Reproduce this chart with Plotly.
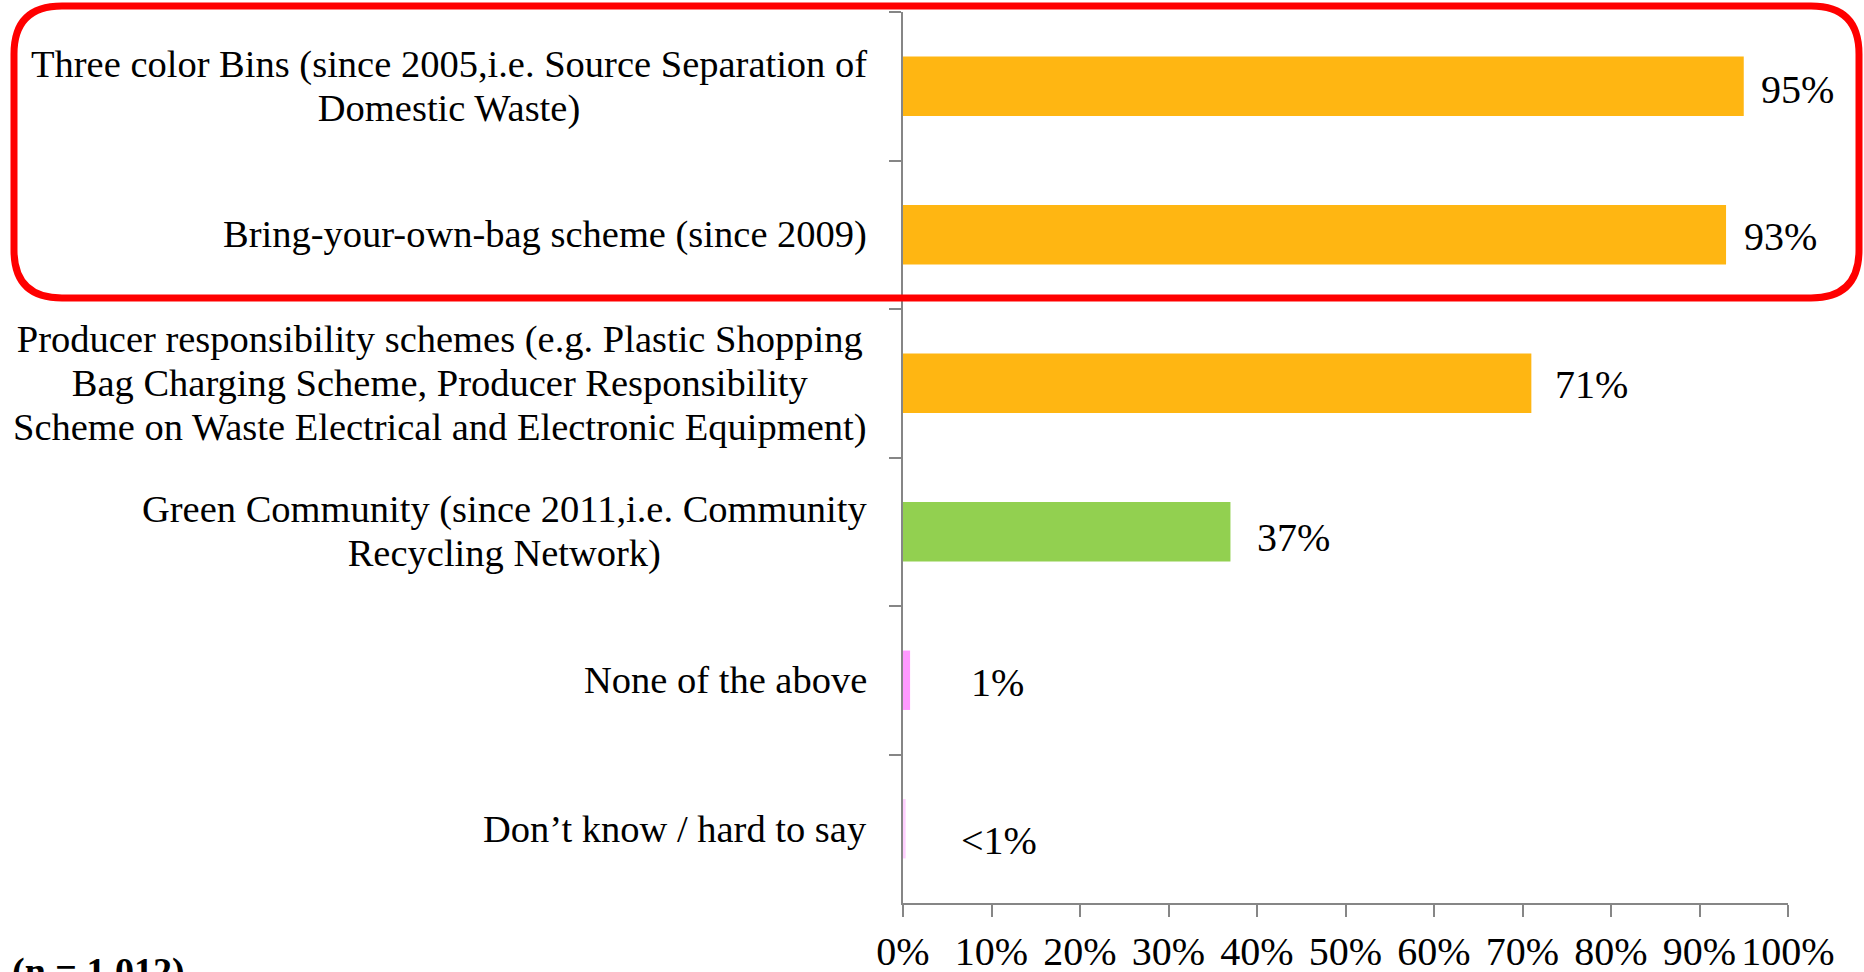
import plotly.graph_objects as go

categories = [
    "Three color Bins (since 2005,i.e. Source Separation of<br>Domestic Waste)",
    "Bring-your-own-bag scheme (since 2009)",
    "Producer responsibility schemes (e.g. Plastic Shopping<br>Bag Charging Scheme, Producer Responsibility<br>Scheme on Waste Electrical and Electronic Equipment)",
    "Green Community (since 2011,i.e. Community<br>Recycling Network)",
    "None of the above",
    "Don’t know / hard to say",
]
values = [0.95, 0.93, 0.71, 0.37, 0.008, 0.003]
value_labels = ["95%", "93%", "71%", "37%", "1%", "<1%"]
bar_colors = ["#FFB612", "#FFB612", "#FFB612", "#92D050", "#FF99FF", "#FFD0FF"]
label_xshift = [15, 16, 22, 25, 59, 53]
label_yshift = [-3, -2, -1, -6, -2, -12]
tick_vals = [i / 10 for i in range(11)]
tick_text = [f"{i * 10}%" for i in range(11)]
note_text = "<b>(n = 1,012)</b>"

W, H = 1864, 972
ML, MR, MT, MB = 903, 76, 12, 69
PW, PH = W - ML - MR, H - MT - MB


def px(x):
    return (x - ML) / PW


def py(y):
    return 1 - (y - MT) / PH


FONT = "Liberation Serif, Times New Roman, serif"
CAT_SIZE = 38.5
VAL_SIZE = 40

fig = go.Figure()
fig.add_trace(go.Bar(
    x=values, y=categories, orientation="h",
    marker=dict(color=bar_colors, line=dict(width=0)),
    hoverinfo="skip",
))

annotations = []
for c, v, t, dx, dy in zip(categories, values, value_labels, label_xshift, label_yshift):
    annotations.append(dict(
        x=v, y=c, xref="x", yref="y", text=t, showarrow=False,
        xanchor="left", yanchor="middle", xshift=dx, yshift=dy,
        font=dict(family=FONT, size=VAL_SIZE, color="black"),
    ))
    styled = "<br>".join(
        f"<span style='font-size:{CAT_SIZE}px'>{line}</span>" for line in c.split("<br>")
    )
    annotations.append(dict(
        x=0, y=c, xref="paper", yref="y", text=styled, showarrow=False,
        xanchor="right", yanchor="middle", xshift=-34, align="center",
        font=dict(family=FONT, size=34, color="black"),
    ))

annotations.append(dict(
    x=px(10), y=py(948), xref="paper", yref="paper", text=note_text,
    showarrow=False, xanchor="left", yanchor="top",
    font=dict(family=FONT, size=38, color="black"),
))

# rounded red highlight box
x0, x1, y0, y1, r = 14, 1859, 6, 298, 48
path = (
    f"M {px(x0 + r)} {py(y0)} L {px(x1 - r)} {py(y0)} "
    f"Q {px(x1)} {py(y0)} {px(x1)} {py(y0 + r)} "
    f"L {px(x1)} {py(y1 - r)} Q {px(x1)} {py(y1)} {px(x1 - r)} {py(y1)} "
    f"L {px(x0 + r)} {py(y1)} Q {px(x0)} {py(y1)} {px(x0)} {py(y1 - r)} "
    f"L {px(x0)} {py(y0 + r)} Q {px(x0)} {py(y0)} {px(x0 + r)} {py(y0)} Z"
)

fig.update_layout(
    width=W, height=H,
    margin=dict(l=ML, r=MR, t=MT, b=MB, pad=0, autoexpand=False),
    paper_bgcolor="white", plot_bgcolor="white",
    bargap=0.6, showlegend=False,
    annotations=annotations,
    shapes=[dict(type="path", path=path, xref="paper", yref="paper",
                 line=dict(color="#FF0000", width=7), layer="above")],
    xaxis=dict(
        range=[0, 1], tickvals=tick_vals, ticktext=tick_text,
        ticks="outside", ticklen=12, tickwidth=2, tickcolor="#868686",
        showline=True, linecolor="#868686", linewidth=2,
        showgrid=False, zeroline=False, automargin=False,
        tickfont=dict(family=FONT, size=VAL_SIZE, color="black"),
    ),
    yaxis=dict(
        autorange="reversed", showticklabels=False,
        ticks="outside", ticklen=12, tickwidth=2, tickcolor="#868686",
        tickson="boundaries", automargin=False,
        showline=True, linecolor="#868686", linewidth=2,
        showgrid=False, zeroline=False,
    ),
)

fig.write_html("out.html")
